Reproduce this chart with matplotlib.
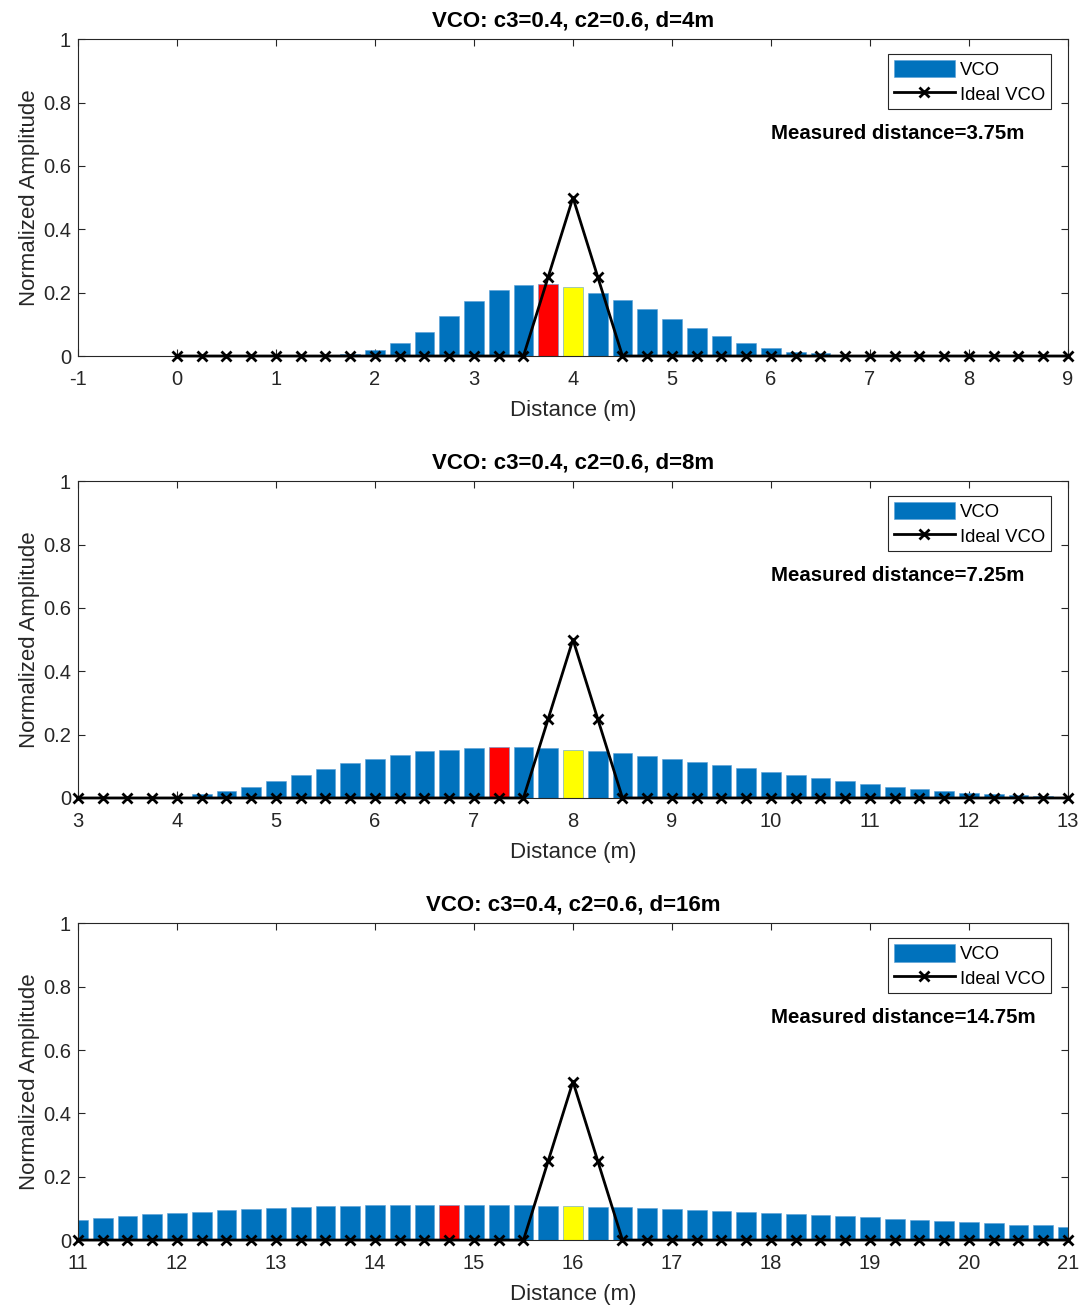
import numpy as np
import matplotlib
matplotlib.use("Agg")
import matplotlib.pyplot as plt

plt.rcParams['font.family'] = ['Liberation Sans', 'DejaVu Sans']
plt.rcParams['axes.unicode_minus'] = False

# bar positions start / end for each panel (0.25 m bins)
x_start = [0.0, 3.0, 11.0]
x_end = [9.0, 13.0, 21.0]
titles = ['VCO: c3=0.4, c2=0.6, d=4m', 'VCO: c3=0.4, c2=0.6, d=8m', 'VCO: c3=0.4, c2=0.6, d=16m']
xlims = [(-1, 9), (3, 13), (11, 21)]
true_d = [4.0, 8.0, 16.0]
measured_d = [3.75, 7.25, 14.75]

# VCO bar amplitudes
vco_d4 = [0, 0, 0, 0, 0, 0.001, 0.003,
          0.007, 0.018, 0.040, 0.077, 0.126, 0.174, 0.208, 0.224, 0.227,
          0.218, 0.200, 0.176, 0.147, 0.118, 0.090, 0.062, 0.040, 0.025,
          0.014, 0.008, 0.004, 0.002, 0.001, 0, 0, 0, 0, 0, 0, 0]
vco_d8 = [0, 0, 0, 0, 0.003, 0.012, 0.021, 0.034, 0.052, 0.071, 0.091,
          0.110, 0.123, 0.137, 0.147, 0.153, 0.158, 0.161, 0.161, 0.157,
          0.153, 0.149, 0.141, 0.133, 0.124, 0.114, 0.103, 0.094, 0.083,
          0.072, 0.062, 0.053, 0.044, 0.036, 0.028, 0.021, 0.017, 0.012,
          0.008, 0.005, 0.002]
vco_d16 = [0.063, 0.069, 0.076, 0.081, 0.086, 0.090, 0.095, 0.098, 0.102,
           0.105, 0.107, 0.109, 0.110, 0.111, 0.112, 0.112, 0.112, 0.111,
           0.110, 0.109, 0.107, 0.105, 0.103, 0.101, 0.098, 0.095, 0.091,
           0.088, 0.085, 0.081, 0.078, 0.075, 0.072, 0.066, 0.063, 0.060,
           0.056, 0.053, 0.049, 0.046, 0.042]
vco_all = [vco_d4, vco_d8, vco_d16]

# ideal VCO triangle: peak values around the true distance
ideal_offsets = [-0.25, 0.0, 0.25]
ideal_peak = [0.25, 0.5, 0.25]

blue = '#0072BD'
fig = plt.figure(figsize=(10.86, 13.06), dpi=100)
bottoms = [0.7274, 0.3890, 0.0505]

for i in range(3):
    ax = fig.add_axes([0.0718, bottoms[i], 0.9116, 0.2425])
    xs = np.arange(x_start[i], x_end[i] + 0.001, 0.25)
    vals = np.array(vco_all[i])
    colors = []
    for x in xs:
        if abs(x - measured_d[i]) < 1e-6:
            colors.append('#FF0000')
        elif abs(x - true_d[i]) < 1e-6:
            colors.append('#FFFF00')
        else:
            colors.append(blue)
    bars = ax.bar(xs, vals, width=0.2, color=colors, edgecolor='#5a9fd6', linewidth=0.4,
                  label='VCO', zorder=2)

    ideal = np.zeros(len(xs))
    for off, pk in zip(ideal_offsets, ideal_peak):
        ideal[np.isclose(xs, true_d[i] + off)] = pk
    line, = ax.plot(xs, ideal, color='black', lw=2, marker='x', ms=6.5, mew=2,
                    label='Ideal VCO', zorder=3, clip_on=False)

    ax.set_xlim(*xlims[i])
    ax.set_ylim(0, 1)
    ax.set_xticks(np.arange(xlims[i][0], xlims[i][1] + 1, 1))
    ax.set_yticks([0, 0.2, 0.4, 0.6, 0.8, 1])
    ax.set_yticklabels(['0', '0.2', '0.4', '0.6', '0.8', '1'])
    ax.tick_params(direction='in', top=True, right=True, length=5, width=0.8,
                   labelsize=14.5, colors='#262626')
    ax.tick_params(axis='x', pad=10)
    ax.tick_params(axis='y', pad=5)
    for sp in ax.spines.values():
        sp.set_color('#262626')
        sp.set_linewidth(0.8)
    ax.set_title(titles[i], fontsize=16, fontweight='bold', pad=9)
    ax.set_xlabel('Distance (m)', fontsize=16, color='#262626', labelpad=8)
    ax.set_ylabel('Normalized Amplitude', fontsize=16, color='#262626', labelpad=2)

    leg = ax.legend([bars, line], ['VCO', 'Ideal VCO'], loc='upper right',
                    bbox_to_anchor=(0.983, 0.953), borderaxespad=0, fontsize=13.3,
                    handlelength=3.3, handleheight=1.1, fancybox=False, framealpha=1,
                    borderpad=0.3, labelspacing=0.3, handletextpad=0.3)
    leg.get_frame().set_edgecolor('#262626')
    leg.get_frame().set_linewidth(0.8)

    ax.text(0.70, 0.703, 'Measured distance=%gm' % measured_d[i], transform=ax.transAxes,
            fontsize=14.7, fontweight='bold', ha='left', va='center')

fig.savefig('out.png', dpi=100)
